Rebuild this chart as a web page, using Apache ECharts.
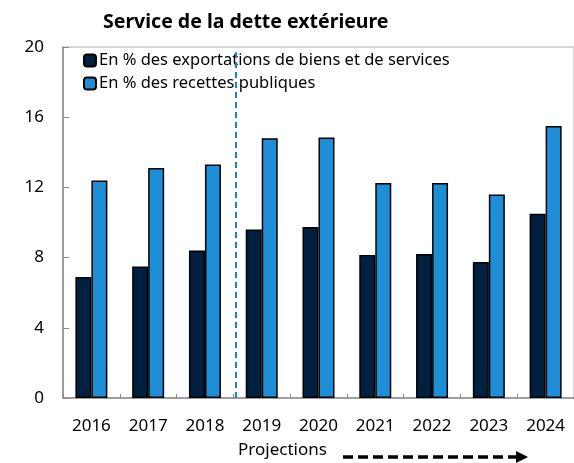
<!DOCTYPE html>
<html><head><meta charset="utf-8">
<script src="https://cdn.jsdelivr.net/npm/echarts@6/dist/echarts.min.js"></script>
<style>html,body{margin:0;padding:0;background:#fff}#c{width:574px;height:463px}</style>
</head><body><div id="c"></div>
<script>
const categories = ['2016','2017','2018','2019','2020','2021','2022','2023','2024'];
const exportsShare = [6.9, 7.5, 8.4, 9.6, 9.75, 8.15, 8.2, 7.75, 10.5];
const revenueShare = [12.4, 13.1, 13.3, 14.8, 14.85, 12.25, 12.25, 11.6, 15.5];
const yTicks = [0, 4, 8, 12, 16, 20];
const seriesNames = ['En % des exportations de biens et de services', 'En % des recettes publiques'];
const projectionStart = 3.05;

const FONT = '"Noto Sans", "Open Sans", sans-serif';
const chart = echarts.init(document.getElementById('c'), null, {renderer:'canvas'});
chart.setOption({
  animation: false,
  textStyle: {fontFamily: FONT},
  title: {
    text: 'Service de la dette extérieure',
    left: 98, top: 7,
    textStyle: {fontFamily: FONT, fontWeight: 'bold', fontSize: 19.5, color: '#000'}
  },
  legend: {
    data: seriesNames,
    orient: 'vertical',
    left: 78, top: 47,
    itemWidth: 12, itemHeight: 12, itemGap: 6,
    textStyle: {fontFamily: FONT, fontSize: 16.5, lineHeight: 16, color: '#000', padding: [0,0,0,-2]}
  },
  grid: {left: 63, top: 47, width: 514, bottom: 65, show: true, borderColor: '#b0b0b0', borderWidth: 1},
  xAxis: [{
    type: 'category', data: categories,
    axisLine: {lineStyle: {color: '#8a8a8a', width: 1.5}},
    axisTick: {show: true, inside: true, length: 4, lineStyle: {color: '#8a8a8a'}},
    axisLabel: {color: '#000', fontSize: 17, margin: 20, fontFamily: FONT}
  }, {
    type: 'value', min: 0, max: 9, show: false
  }],
  yAxis: {
    type: 'value', min: yTicks[0], max: yTicks[yTicks.length-1], interval: 4,
    axisLine: {show: true, lineStyle: {color: '#8a8a8a', width: 1.5}},
    axisTick: {show: true, inside: true, length: 6, lineStyle: {color: '#8a8a8a'}},
    splitLine: {show: false},
    axisLabel: {color: '#000', fontSize: 17, margin: 19, fontFamily: FONT}
  },
  series: [{
    name: seriesNames[0], type: 'bar', data: exportsShare,
    barWidth: 16, barGap: '0%',
    itemStyle: {color: '#00203f', borderColor: '#000', borderWidth: 1.5}
  }, {
    name: seriesNames[1], type: 'bar', data: revenueShare,
    barWidth: 16,
    itemStyle: {color: '#1e8fd6', borderColor: '#000', borderWidth: 1.5}
  }, {
    type: 'line', xAxisIndex: 1, data: [], silent: true,
    markLine: {
      silent: true, symbol: ['none','none'],
      label: {show: false},
      lineStyle: {color: '#1f7fc2', type: [6,4], width: 2},
      data: [[{coord: [projectionStart, 0]}, {coord: [projectionStart, 19.7]}]]
    }
  }],
  graphic: [
    {type: 'text', left: 238, top: 442, style: {text: 'Projections', font: '17px ' + FONT, fill: '#000'}},
    {type: 'line', shape: {x1: 343, y1: 457, x2: 518, y2: 457},
     style: {stroke: '#000', lineWidth: 3.5, lineDash: [10, 5]}},
    {type: 'polygon', shape: {points: [[516, 451], [528, 457], [516, 463]]}, style: {fill: '#000'}}
  ]
});
</script></body></html>
